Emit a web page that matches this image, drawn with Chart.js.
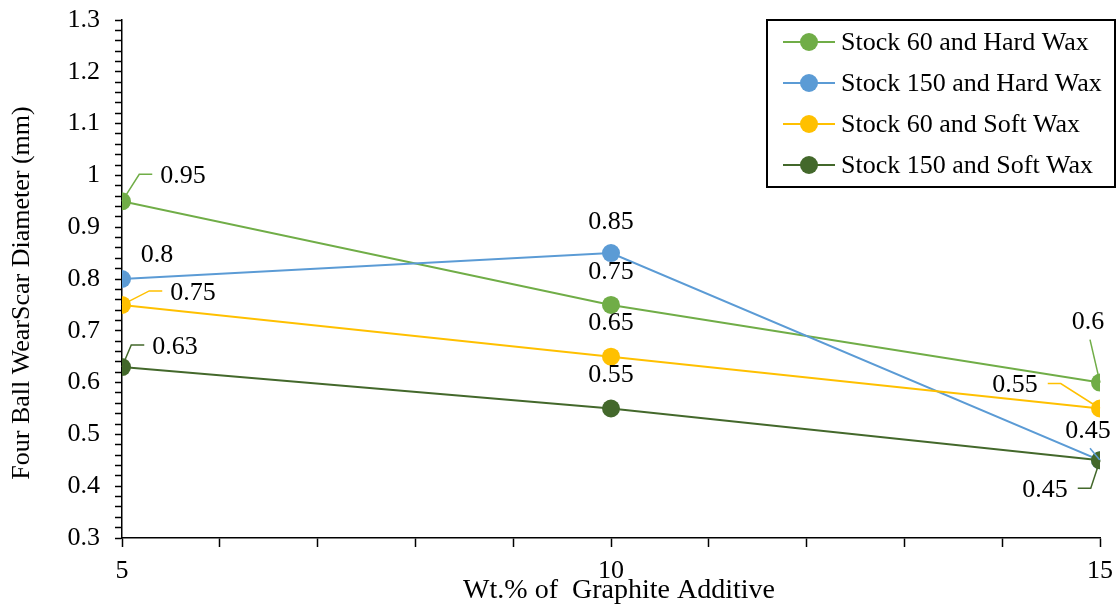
<!DOCTYPE html>
<html>
<head>
<meta charset="utf-8">
<script src="https://cdn.jsdelivr.net/npm/chart.js@4"></script>
<style>
  html, body { margin: 0; padding: 0; background: #fff; }
  #wrap { width: 1120px; height: 606px; }
</style>
</head>
<body>
<div id="wrap"><canvas id="wearChart"></canvas></div>
<script>
// data
const wtPercent = [5, 10, 15];
const seriesNames = ['Stock 60 and Hard Wax', 'Stock 150 and Hard Wax', 'Stock 60 and Soft Wax', 'Stock 150 and Soft Wax'];
const stock60Hard = [0.95, 0.75, 0.6];
const stock150Hard = [0.8, 0.85, 0.45];
const stock60Soft = [0.75, 0.65, 0.55];
const stock150Soft = [0.63, 0.55, 0.45];
const xLabelTicks = [5, 10, 15];

const seriesColors = ['#70AD47', '#5B9BD5', '#FFC000', '#43682B'];
const FONT = "'Liberation Serif', 'Times New Roman', serif";

// where each data label sits (text centre relative to its point) and how its leader is drawn
const labelOffsets = [
  [[61, -25], [0, -33], [-12, -60]],
  [[35, -24], [0, -31], [-12, -29]],
  [[71, -12], [0, -34], [-85, -23]],
  [[53, -20], [0, -33], [-55, 30]]
];
const leaderTypes = [
  ['left', 'none', 'below'],
  ['none', 'none', 'below'],
  ['left', 'none', 'right'],
  ['left', 'none', 'right']
];

const allSeries = [stock60Hard, stock150Hard, stock60Soft, stock150Soft];

const datasets = allSeries.map((vals, i) => ({
  label: seriesNames[i],
  data: vals.map((v, j) => ({ x: wtPercent[j], y: v })),
  borderColor: seriesColors[i],
  backgroundColor: seriesColors[i],
  borderWidth: 2,
  pointRadius: 9,
  pointHoverRadius: 9,
  pointBorderWidth: 0,
  tension: 0,
  order: 3 - i   // later series drawn on top, like the original
}));

function drawLeader(ctx, type, px, py, cx, cy, w, color) {
  if (type === 'none') return;
  ctx.save();
  ctx.strokeStyle = color;
  ctx.lineWidth = 1.5;
  ctx.beginPath();
  if (type === 'left') {
    const ex = cx - w / 2 - 8, ly = cy - 2;
    ctx.moveTo(px, py); ctx.lineTo(ex - 13, ly); ctx.lineTo(ex, ly);
  } else if (type === 'right') {
    const ex = cx + w / 2 + 10, ly = cy - 2;
    ctx.moveTo(px, py); ctx.lineTo(ex + 13, ly); ctx.lineTo(ex, ly);
  } else if (type === 'below') {
    ctx.moveTo(cx + 2, cy + 17); ctx.lineTo(px, py);
  }
  ctx.stroke();
  ctx.restore();
}

const extrasPlugin = {
  id: 'extras',
  afterDatasetsDraw(chart) {
    const ctx = chart.ctx;
    const area = chart.chartArea;

    // data labels with leaders
    ctx.save();
    ctx.font = '26px ' + FONT;
    ctx.textAlign = 'center';
    ctx.textBaseline = 'middle';
    chart.data.datasets.forEach((ds, i) => {
      const meta = chart.getDatasetMeta(i);
      meta.data.forEach((pt, j) => {
        const txt = String(allSeries[i][j]);
        const cx = pt.x + labelOffsets[i][j][0];
        const cy = pt.y + labelOffsets[i][j][1];
        const w = ctx.measureText(txt).width;
        drawLeader(ctx, leaderTypes[i][j], pt.x, pt.y, cx, cy, w, seriesColors[i]);
        ctx.fillStyle = '#000';
        ctx.fillText(txt, cx, cy);
      });
    });
    ctx.restore();

    // axis titles
    ctx.save();
    ctx.fillStyle = '#000';
    ctx.textAlign = 'center';
    ctx.textBaseline = 'middle';
    ctx.font = '28px ' + FONT;
    ctx.fillText('Wt.% of  Graphite Additive', (area.left + area.right) / 2 + 8, area.bottom + 53);
    ctx.font = '26px ' + FONT;
    ctx.translate(area.left - 100, (area.top + area.bottom) / 2 + 14);
    ctx.rotate(-Math.PI / 2);
    ctx.fillText('Four Ball WearScar Diameter (mm)', 0, 0);
    ctx.restore();

    // legend box
    ctx.save();
    const boxL = area.right - 333, boxT = area.top, boxW = 348, boxH = 167;
    ctx.fillStyle = '#fff';
    ctx.fillRect(boxL, boxT, boxW, boxH);
    ctx.strokeStyle = '#000';
    ctx.lineWidth = 2;
    ctx.strokeRect(boxL, boxT, boxW, boxH);
    ctx.font = '26px ' + FONT;
    ctx.textAlign = 'left';
    ctx.textBaseline = 'middle';
    seriesNames.forEach((name, i) => {
      const y = boxT + 22 + i * 41;
      ctx.strokeStyle = seriesColors[i];
      ctx.lineWidth = 2;
      ctx.beginPath();
      ctx.moveTo(boxL + 16, y);
      ctx.lineTo(boxL + 68, y);
      ctx.stroke();
      ctx.fillStyle = seriesColors[i];
      ctx.beginPath();
      ctx.arc(boxL + 42, y, 9, 0, Math.PI * 2);
      ctx.fill();
      ctx.fillStyle = '#000';
      ctx.fillText(name, boxL + 74, y + 1);
    });
    ctx.restore();
  }
};

const ctx = document.getElementById('wearChart').getContext('2d');

const config = {
  type: 'line',
  data: { datasets: datasets },
  options: {
    responsive: true,
    maintainAspectRatio: false,
    animation: false,
    layout: { padding: { top: 20, right: 20, bottom: 0, left: 0 } },
    plugins: {
      legend: { display: false },
      tooltip: { enabled: false }
    },
    scales: {
      x: {
        type: 'linear',
        min: 5,
        max: 15,
        afterFit(scale) {
          scale.height = 68;
          scale.paddingLeft = 0;
          scale.paddingRight = 0;
        },
        border: { display: true, color: '#000', width: 1.5 },
        grid: { drawOnChartArea: false, drawTicks: true, tickLength: 9, tickColor: '#000', tickWidth: 1.5 },
        ticks: {
          stepSize: 1,
          autoSkip: false,
          maxRotation: 0,
          padding: 9,
          color: '#000',
          font: { family: FONT, size: 26 },
          callback: (v) => xLabelTicks.includes(v) ? String(v) : ''
        }
      },
      y: {
        min: 0.3,
        max: 1.3,
        afterFit(scale) {
          scale.width = 122;
          scale.paddingTop = 0;
          scale.paddingBottom = 0;
        },
        border: { display: true, color: '#000', width: 1.5 },
        grid: { drawOnChartArea: false, drawTicks: true, tickLength: 7, tickColor: '#000', tickWidth: 1.5 },
        ticks: {
          stepSize: 0.02,
          autoSkip: false,
          padding: 15,
          color: '#000',
          font: { family: FONT, size: 26 },
          callback: (v) => {
            const t = v * 10;
            return Math.abs(t - Math.round(t)) < 1e-6 ? String(parseFloat(v.toFixed(1))) : '';
          }
        }
      }
    }
  },
  plugins: [extrasPlugin]
};

const wearChart = new Chart(ctx, config);
</script>
</body>
</html>
